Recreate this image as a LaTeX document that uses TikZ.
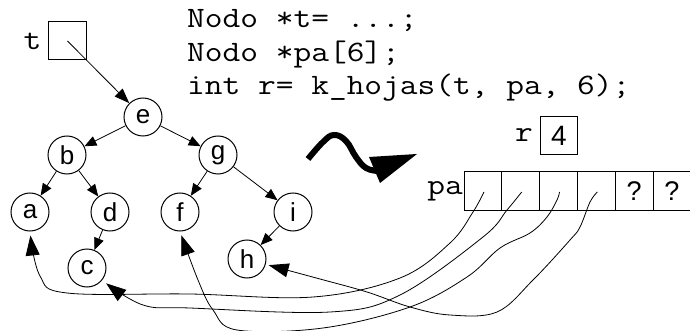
\documentclass[tikz,border=0pt]{standalone}
\usepackage{fontspec}
\setmainfont{Liberation Sans}
\setmonofont{Latin Modern Mono}[FakeStretch=1.163]
\usepackage{tikz}
\usetikzlibrary{arrows.meta, positioning, calc}
\tikzset{
  leaf/.style={
    circle, draw, line width=1pt,
    minimum size=38pt, inner sep=0pt,
    font=\fontsize{26}{26}\selectfont,
  },
  cell/.style={
    rectangle, draw, line width=1pt,
    minimum width=37.8pt, minimum height=38pt,
    inner sep=0pt, outer sep=0pt,
    font=\fontsize{27}{27}\selectfont,
  },
  code/.style={font=\ttfamily\fontsize{29.6}{33}\selectfont, inner sep=0pt},
  edge/.style={-{Triangle[length=12pt,width=10pt]}, line width=0.8pt},
  ptr/.style={-{Triangle[length=20pt,width=14pt]}, line width=0.8pt},
}

\begin{document}
\begin{tikzpicture}[x=1pt,y=-1pt]
  \useasboundingbox (0,0) rectangle (690,331);
  % the code lines
  \node[code,anchor=base west] (l1) at (187,28) {Nodo *t= ...;};
  \node[code,anchor=base west] (l2) at (187,62) {Nodo *pa[6];};
  \node[code,anchor=base west] (l3) at (187,95) {int r= k\_hojas(t, pa, 6);};
  % pointer t
  \node[cell] (tbox) at (67.5,41) {};
  \node[code,left=7pt of tbox] (tlab) {t};
  % the tree
  \node[leaf] (e) at (143,117) {e};
  \node[leaf,on grid,below left=38pt and 76pt of e] (b) {b};
  \node[leaf,on grid,below right=38pt and 75pt of e] (g) {g};
  \node[leaf,on grid,below left=57pt and 37pt of b] (a) {a};
  \node[leaf,on grid,below right=57pt and 43pt of b] (d) {d};
  \node[leaf,on grid,below left=57pt and 38pt of g] (f) {f};
  \node[leaf,on grid,below right=57pt and 75pt of g] (i) {i};
  \node[leaf,on grid,below left=56pt and 23pt of d] (c) {c};
  \node[leaf,on grid,below left=47pt and 46pt of i] (h) {h};
  \draw[-{Triangle[length=15pt,width=11pt]},line width=0.8pt] (tbox.center)--(e);
  \draw[edge] (e)--(b);
  \draw[edge] (e)--(g);
  \draw[edge] (b)--(a);
  \draw[edge] (b)--(d);
  \draw[edge] (d)--(c);
  \draw[edge] (g)--(f);
  \draw[edge] (g)--(i);
  \draw[edge] (i)--(h);
  % result r
  \node[cell,font=\fontsize{28}{28}\selectfont] (rbox) at (559,135.5) {4};
  \node[code,left=7pt of rbox] (rlab) {r};
  % array pa
  \node[cell] (p1) at (482.9,191) {};
  \node[cell,right=0pt of p1] (p2) {};
  \node[cell,right=0pt of p2] (p3) {};
  \node[cell,right=0pt of p3] (p4) {};
  \node[cell,right=0pt of p4] (p5) {?};
  \node[cell,right=0pt of p5] (p6) {?};
  \node[code,left=1pt of p1] (palab) {pa};
  \foreach \k in {1,...,4}
    \coordinate (q\k) at ($(p\k.center)+(1,1)$);
  % the big wavy arrow
  \draw[line width=6pt] plot[smooth,tension=0.7] coordinates
    {(308,159) (323,142) (334,135) (346,141) (356,157) (366,168) (378,171)};
  \fill (369,157)--(417,154)--(380,183)--cycle;
  % pointers from pa to the leaves
  \draw[ptr,shorten >=4pt] plot[smooth,tension=0.6] coordinates
    {(q1) (473,212) (450,243) (400,278) (313,297) (190,294) (67,293) (40,276) (a.south)};
  \draw[ptr,shorten >=5pt] plot[smooth,tension=0.6] coordinates
    {(q2) (507,210) (483,237) (400,295) (330,312) (190,308) (143,305) (c.-39)};
  \draw[ptr,shorten >=4pt] plot[smooth,tension=0.6] coordinates
    {(q3) (557,200) (547,217) (530,233) (500,248) (467,277) (410,307) (323,328) (237,330) (213,310) (198,280) (f.south)};
  \draw[ptr,shorten >=3pt] plot[smooth,tension=0.6] coordinates
    {(q4) (590,202) (580,227) (570,240) (533,280) (497,312) (450,315) (410,307) (367,292) (320,279) (h.-16)};
\end{tikzpicture}
\end{document}
